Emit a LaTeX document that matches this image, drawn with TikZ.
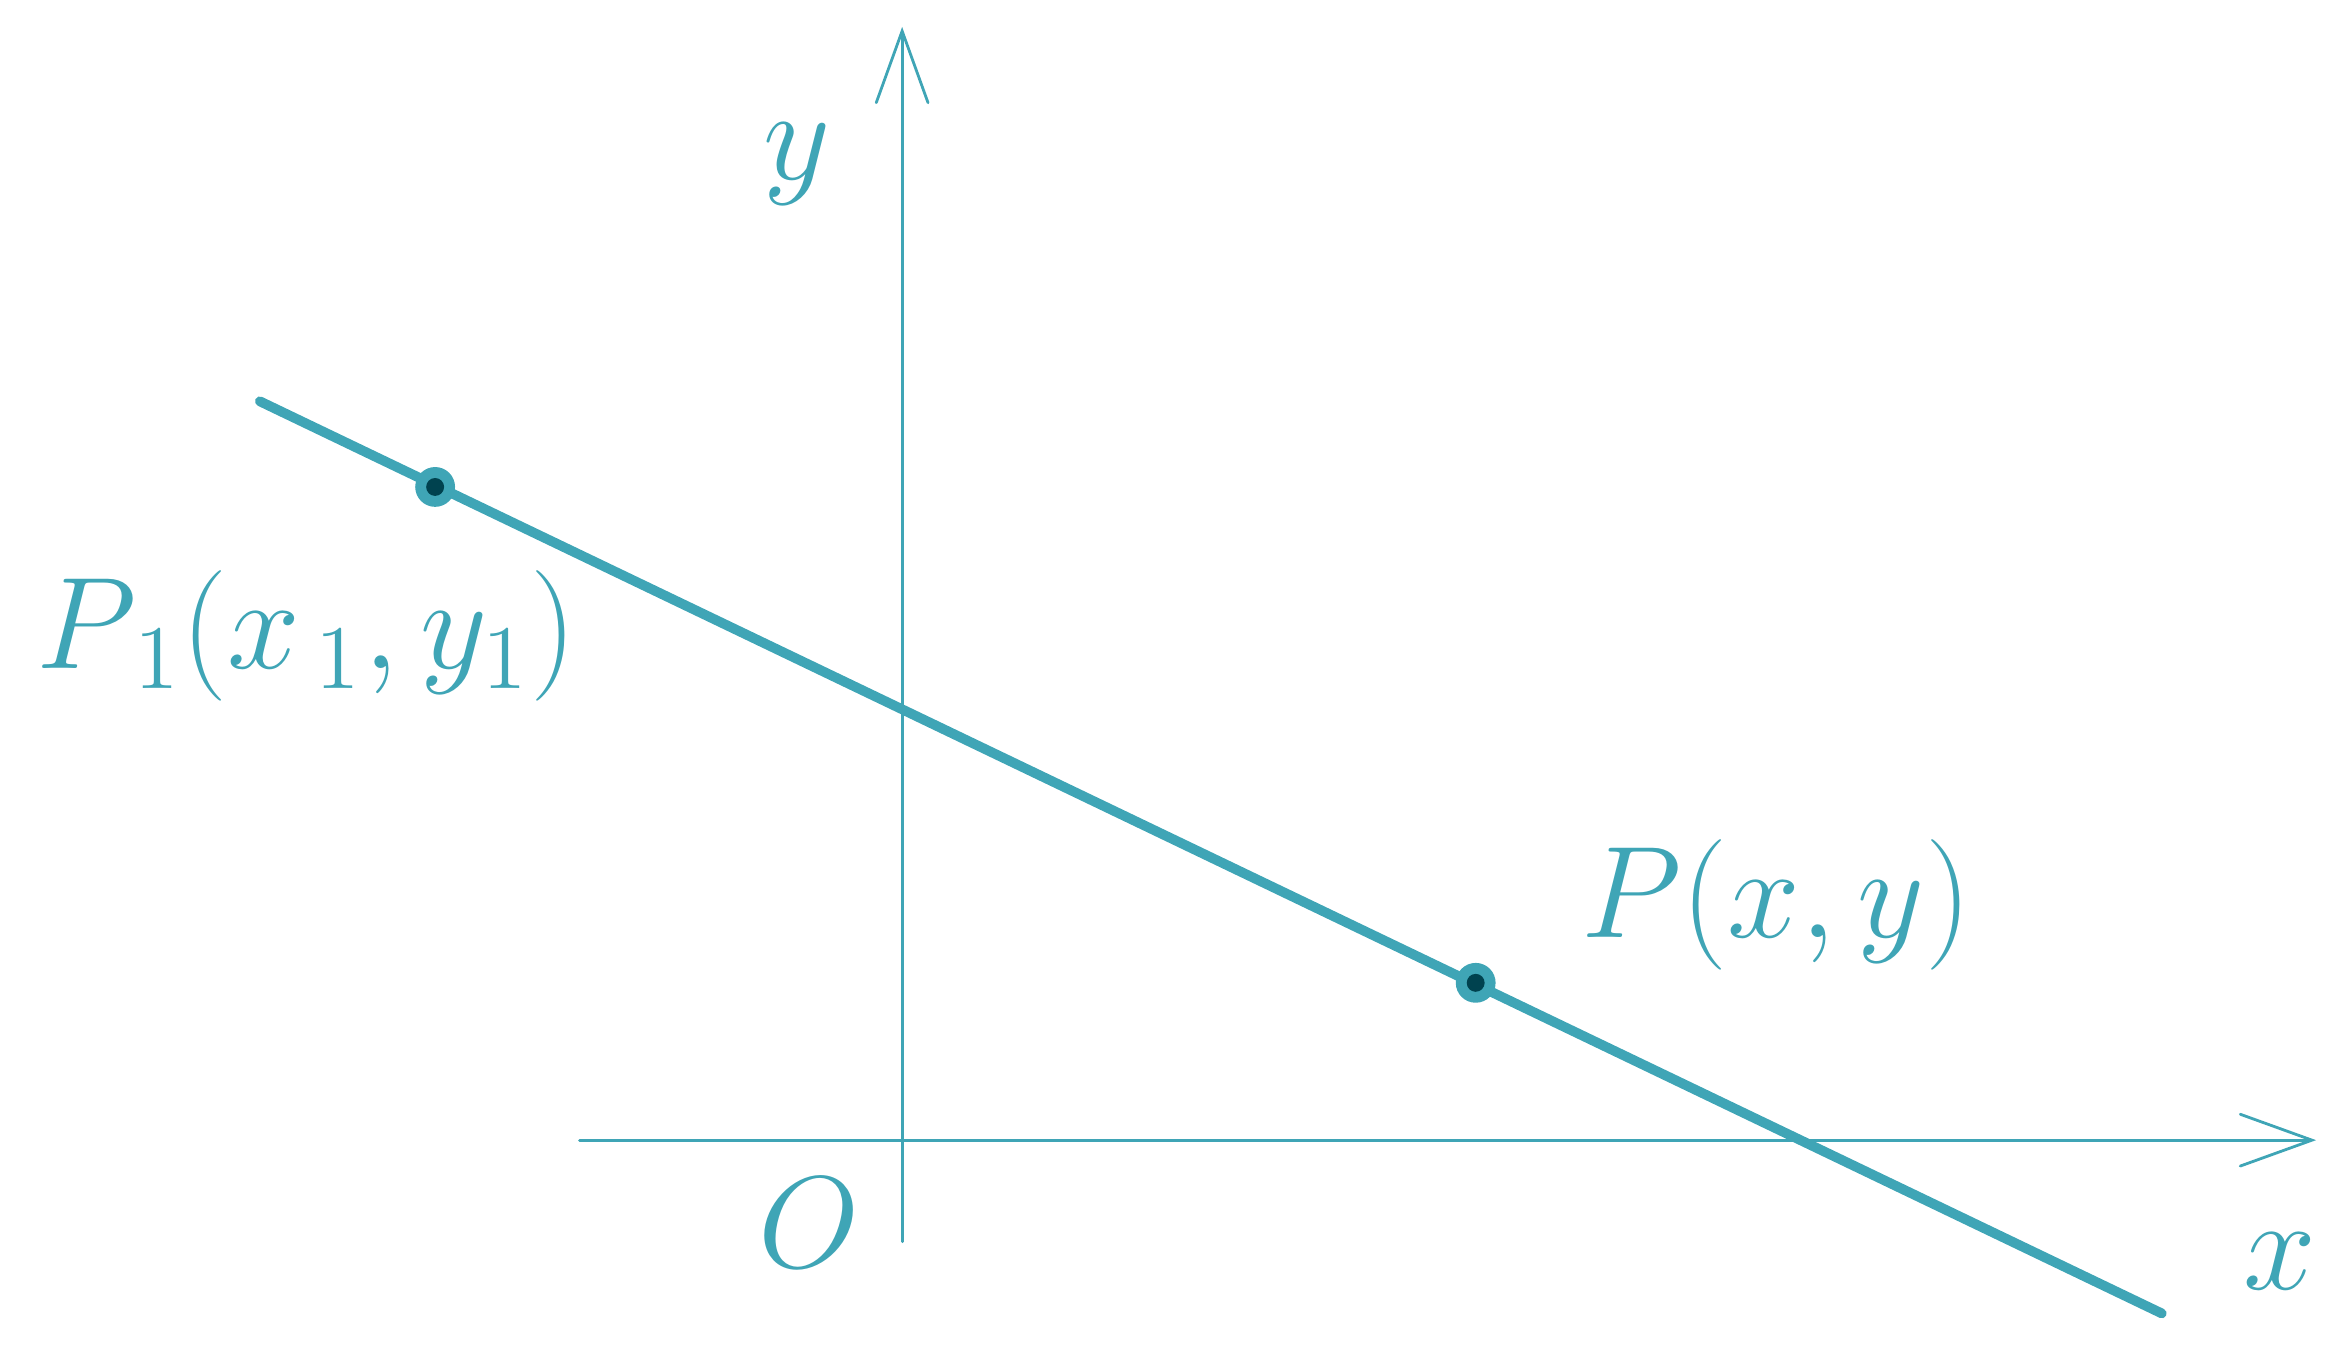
\documentclass[tikz,border=0pt]{standalone}
\usetikzlibrary{arrows.meta}
\definecolor{linecol}{HTML}{3FA5B6}
\definecolor{dotcol}{HTML}{00424F}

\begin{document}
\begin{tikzpicture}[every node/.style={text=linecol, font=\huge, scale=0.9, inner sep=1pt}]
            \useasboundingbox (-4.53,-1.045) rectangle (7.24,5.725);

            % axes
            \coordinate (O) at (0,0);
            \coordinate (Xs) at (-1.62,0);
            \coordinate (Xe) at (7.10,0);
            \coordinate (Ys) at (0,-0.51);
            \coordinate (Ye) at (0,5.59);
            \draw[linecol, line width=0.4pt, line cap=round, -{Straight Barb[length=3.6mm, width=2.6mm, line cap=round]}] (Xs) -- (Xe);
            \draw[linecol, line width=0.4pt, line cap=round, -{Straight Barb[length=3.6mm, width=2.6mm, line cap=round]}] (Ys) -- (Ye);

            \node (xlab) at (6.92,-0.61) {$x$};
            \node (ylab) at (-0.53,4.90) {$y$};
            \node (olab) at (-0.465,-0.415) {$O$};

            % the line
            \coordinate (A) at (-3.225,3.71);
            \coordinate (B) at (6.325,-0.87);
            \draw[linecol, line width=1.4pt, line cap=round] (A) -- (B);

            \coordinate (P1) at (-2.345,3.28);
            \coordinate (P) at (2.88,0.79);
            \foreach \p in {P1,P} {
                \fill[linecol] (\p) circle (0.1);
                \fill[dotcol] (\p) circle (0.045);
            }

            \node (p1lab) at (-2.99,2.53) {$P_{\,1}(x_{\,1},y_1)$};
            \node (plab) at (4.39,1.18) {$P(x,y)$};
        \end{tikzpicture}
\end{document}
